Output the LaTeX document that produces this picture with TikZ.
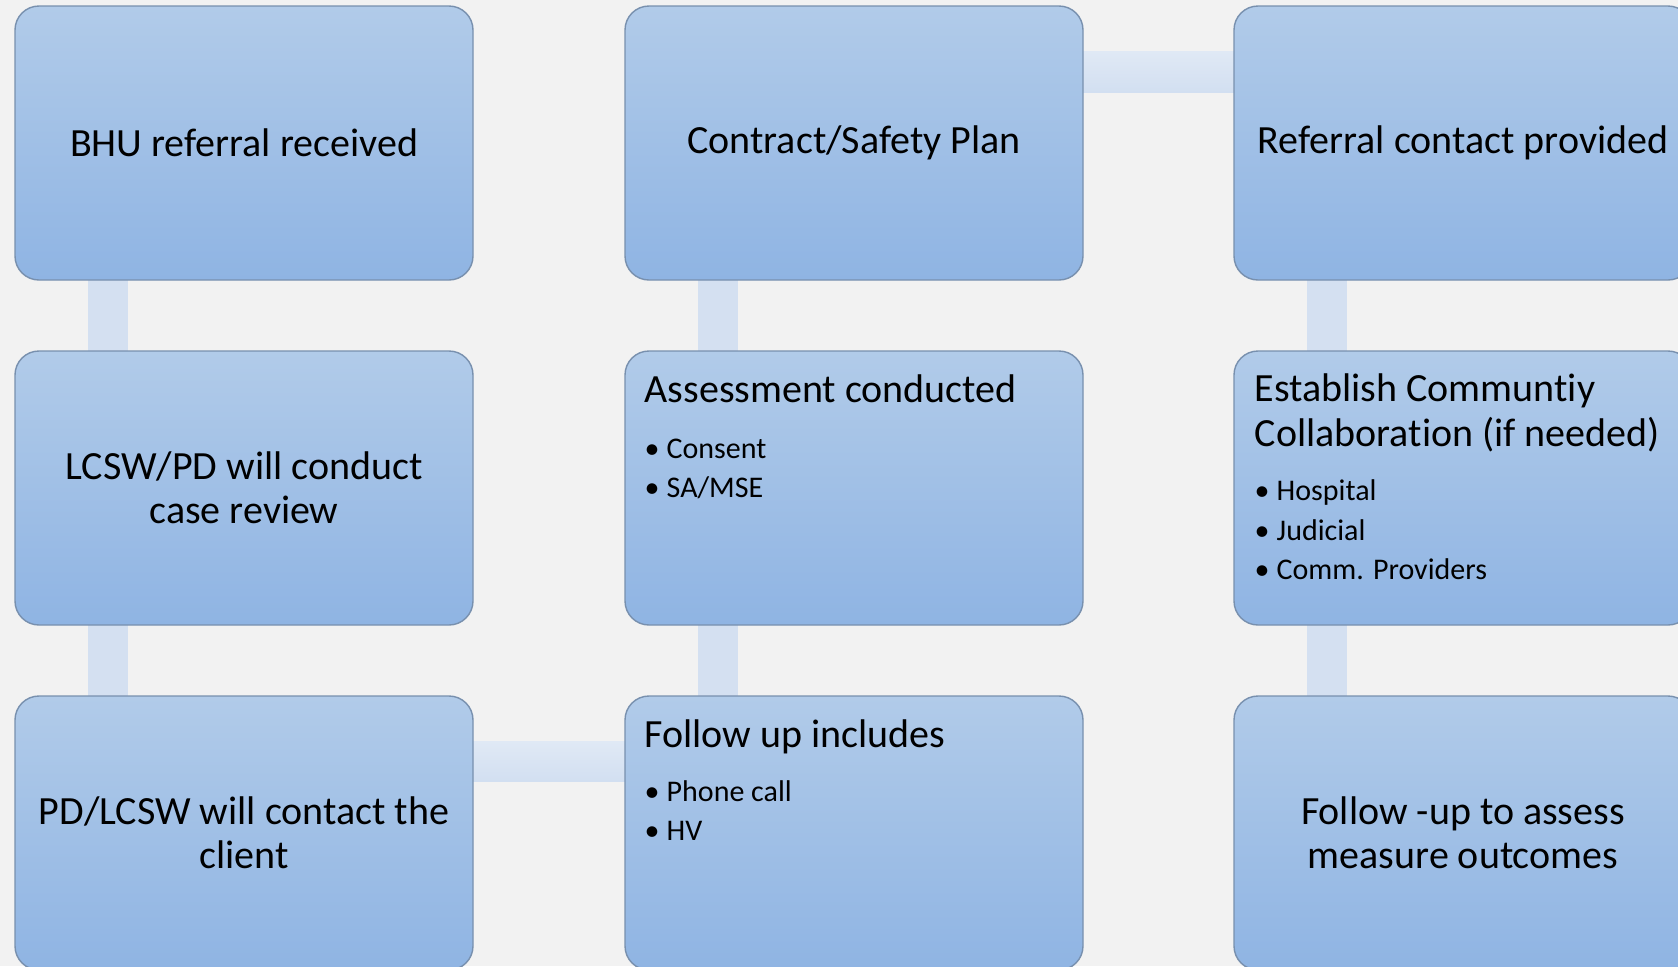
\documentclass[tikz,border=0pt]{standalone}
\usepackage{fontspec}
\setmainfont[Ligatures=NoCommon]{Carlito}
\usetikzlibrary{calc,backgrounds}
\definecolor{bgc}{HTML}{F2F2F2}
\definecolor{boxtop}{HTML}{B1CBE9}
\definecolor{boxbot}{HTML}{8FB4E3}
\definecolor{boxline}{HTML}{7890AE}
\definecolor{barc}{HTML}{D4E0F1}
\definecolor{bartop}{HTML}{E0E9F5}
\definecolor{barbot}{HTML}{D2DFF1}
\begin{document}
\begin{tikzpicture}[x=0.5pt,y=-0.5pt,
  box/.style={draw=boxline, line width=0.7pt, rounded corners=12pt,
    top color=boxtop, bottom color=boxbot,
    minimum width=229pt, minimum height=137pt, inner sep=0pt},
  ctext/.style={align=center, font=\fontsize{20}{22}\selectfont},
  ttl/.style={anchor=base west, align=left, inner sep=0pt,
    font=\fontsize{20}{22.5}\selectfont},
  blt/.style={anchor=base west, align=left, inner sep=0pt,
    font=\fontsize{15}{19.6}\selectfont},
  vbar/.style={fill=barc},
  hbar/.style={top color=bartop, bottom color=barbot}]
\useasboundingbox (0,0) rectangle (1678,966);
\clip (0,0) rectangle (1678,966);

% boxes
\node[box, ctext] (bhu)      at (244,143) {BHU referral received};
\node[box, ctext] (lcsw)     at (244,488) {LCSW/PD will conduct\\case review};
\node[box, ctext] (pd)       at (244,833) {PD/LCSW will contact the\\client};
\node[box]        (assess)   at (854,488) {};
\node[box]        (follow)   at (854,833) {};
\node[box, ctext] (contract) at (854,143) {Contract/Safety Plan};
\node[box, ctext] (referral) at (1463,143) {Referral contact provided};
\node[box]        (establish) at (1463,488) {};
\node[box, ctext] (outcome)  at (1463,833) {Follow -up to assess\\measure outcomes};

% texts inside top-aligned boxes (base = baseline of the last line)
\node[ttl] (assessT) at ($(assess.north west)+(20,52)$) {Assessment conducted};
\node[blt] (assessB) at ($(assess.north west)+(20,147)$)
  {\makebox[11pt][l]{•}Consent\\\makebox[11pt][l]{•}SA/MSE};
\node[ttl] (followT) at ($(follow.north west)+(20,52)$) {Follow up includes};
\node[blt] (followB) at ($(follow.north west)+(20,145)$)
  {\makebox[11pt][l]{•}Phone call\\\makebox[11pt][l]{•}HV};
\node[ttl] (estT) at ($(establish.north west)+(21,96)$) {Establish Communtiy\\Collaboration (if needed)};
\node[blt] (estB) at ($(establish.north west)+(21,229)$)
  {\makebox[11pt][l]{•}Hospital\\\makebox[11pt][l]{•}Judicial\\\makebox[11pt][l]{•}Comm. Providers};

% connectors behind boxes
\begin{scope}[on background layer]
  \fill[bgc] (0,0) rectangle (1678,966);
  \path[vbar] ($(bhu.south west)+(74,-2)$) rectangle ($(lcsw.north west)+(114,2)$);
  \path[vbar] ($(lcsw.south west)+(74,-2)$) rectangle ($(pd.north west)+(114,2)$);
  \path[hbar] ($(pd.north east)+(-2,46)$) rectangle ($(follow.north west)+(2,86)$);
  \path[vbar] ($(assess.south west)+(74,-2)$) rectangle ($(follow.north west)+(114,2)$);
  \path[vbar] ($(contract.south west)+(74,-2)$) rectangle ($(assess.north west)+(114,2)$);
  \path[hbar] ($(contract.north east)+(-2,46)$) rectangle ($(referral.north west)+(2,87)$);
  \path[vbar] ($(referral.south west)+(74,-2)$) rectangle ($(establish.north west)+(114,2)$);
  \path[vbar] ($(establish.south west)+(74,-2)$) rectangle ($(outcome.north west)+(114,2)$);
\end{scope}
\end{tikzpicture}
\end{document}
